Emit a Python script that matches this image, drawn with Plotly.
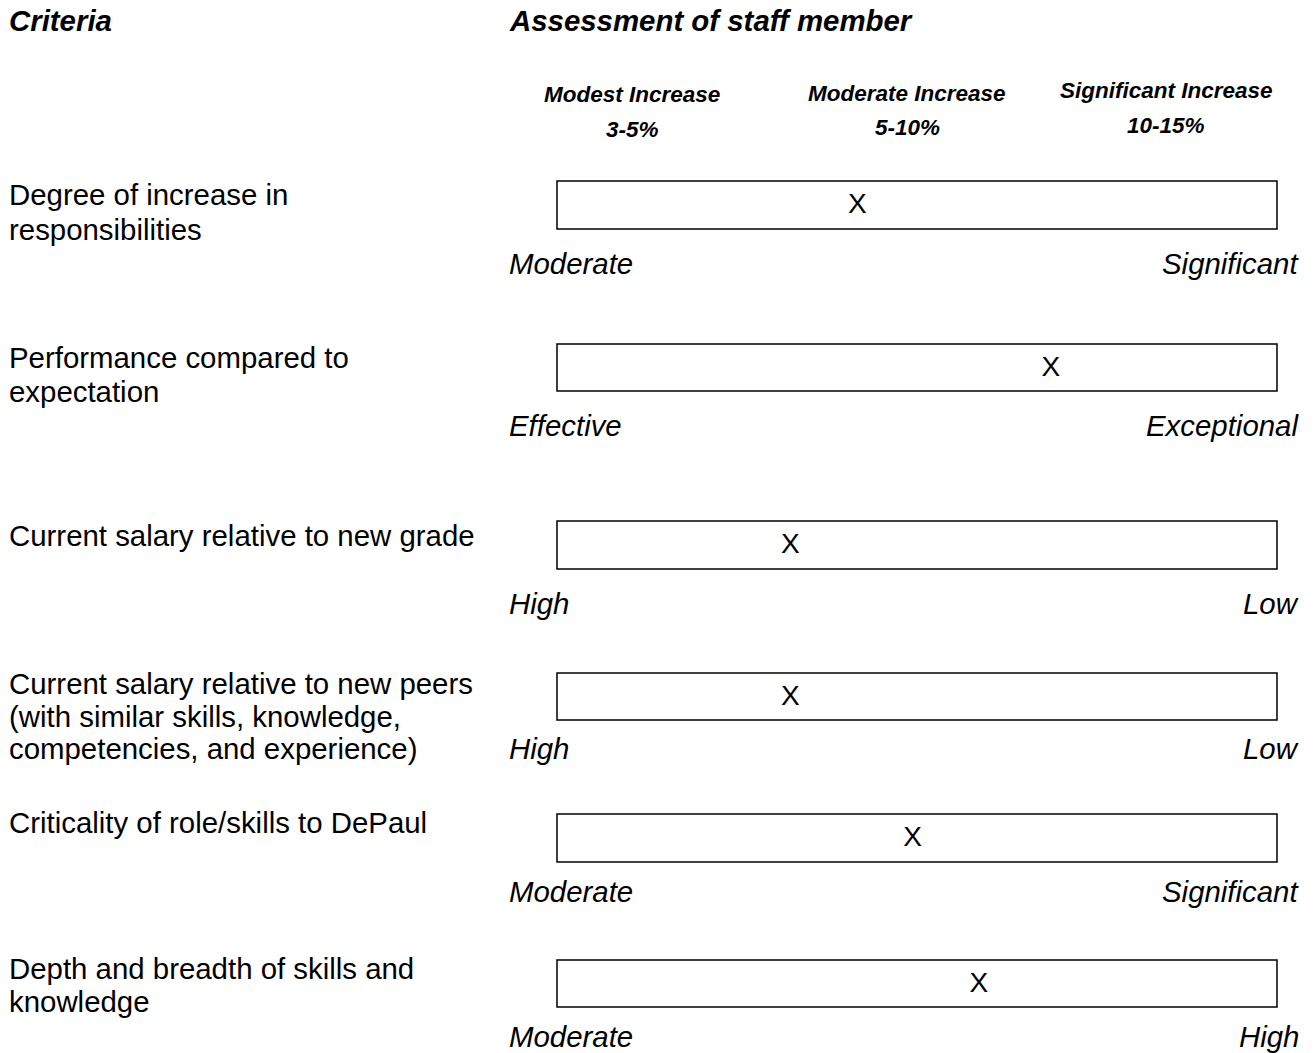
import plotly.graph_objects as go

W, H = 1314, 1053
OFF = 8  # page body margin: figure origin sits at screen (8, 8)

# ---- data ----
criteria = [
    ["Degree of increase in", "responsibilities"],
    ["Performance compared to", "expectation"],
    ["Current salary relative to new grade"],
    ["Current salary relative to new peers", "(with similar skills, knowledge,", "competencies, and experience)"],
    ["Criticality of role/skills to DePaul"],
    ["Depth and breadth of skills and", "knowledge"],
]
ratings = [0.417, 0.686, 0.324, 0.324, 0.494, 0.586]  # position of X on scale 0..1
left_labels = ["Moderate", "Effective", "High", "High", "Moderate", "Moderate"]
right_labels = ["Significant", "Exceptional", "Low", "Low", "Significant", "High"]
increase_names = ["Modest Increase", "Moderate Increase", "Significant Increase"]
increase_ranges = ["3-5%", "5-10%", "10-15%"]

# ---- layout (screen pixel positions) ----
box_left_px, box_right_px = 557, 1277
box_top = [181, 344, 521, 673, 814, 960]
box_bot = [229, 391, 569, 720, 862, 1007]
crit_line_y = [[194, 229], [357, 391], [535], [683, 716, 748], [822], [968, 1001]]
end_label_y = [263, 425, 603, 748, 891, 1036]
inc_x = [632, 907, 1166]
inc_name_y = [94, 93, 90]
inc_range_y = [129, 127, 125]

FONT = "Liberation Sans, Arial, sans-serif"
scale = box_right_px - box_left_px
xr = [(OFF - box_left_px) / scale, (OFF + W - box_left_px) / scale]
yr = [OFF + H, OFF]  # y axis in screen pixels

fig = go.Figure()

# boxes
for t, b in zip(box_top, box_bot):
    fig.add_shape(type="rect", x0=0, x1=1, y0=t, y1=b, xref="x", yref="y",
                  line=dict(color="black", width=1.5), fillcolor="white", layer="below")

# X marks
fig.add_trace(go.Scatter(
    x=ratings, y=[(t + b) / 2 + 1 for t, b in zip(box_top, box_bot)],
    mode="text", text=["X"] * len(ratings),
    textfont=dict(family=FONT, size=28, color="black"),
    textposition="middle center", hoverinfo="skip", showlegend=False))

def px(x):
    return (x - OFF) / W

def ann(text, x, y, size, anchor="left", bold=False, italic=False):
    t = text
    if bold:
        t = "<b>" + t + "</b>"
    if italic:
        t = "<i>" + t + "</i>"
    fig.add_annotation(text=t, x=px(x), y=y, xref="paper", yref="y",
                       xanchor=anchor, yanchor="middle", showarrow=False,
                       font=dict(family=FONT, size=size, color="black"),
                       borderpad=0, borderwidth=0)

ann("Criteria", 9, 20, 29.4, bold=True, italic=True)
ann("Assessment of staff member", 509, 20, 29.4, bold=True, italic=True)

for name, rng, x, yn, yr_ in zip(increase_names, increase_ranges, inc_x, inc_name_y, inc_range_y):
    ann(name, x, yn, 22.5, anchor="center", bold=True, italic=True)
    ann(rng, x, yr_, 22.5, anchor="center", bold=True, italic=True)

for lines, ys in zip(criteria, crit_line_y):
    for line, y in zip(lines, ys):
        ann(line, 9, y, 29.4)

for l, r, y in zip(left_labels, right_labels, end_label_y):
    ann(l, 509, y, 29.4, italic=True)
    ann(r, 1299, y, 29.4, anchor="right", italic=True)

fig.update_layout(
    width=W, height=H, margin=dict(l=0, r=0, t=0, b=0),
    paper_bgcolor="white", plot_bgcolor="white",
    xaxis=dict(range=xr, visible=False, fixedrange=True),
    yaxis=dict(range=yr, visible=False, fixedrange=True),
    showlegend=False,
)

fig.write_html("out.html")
